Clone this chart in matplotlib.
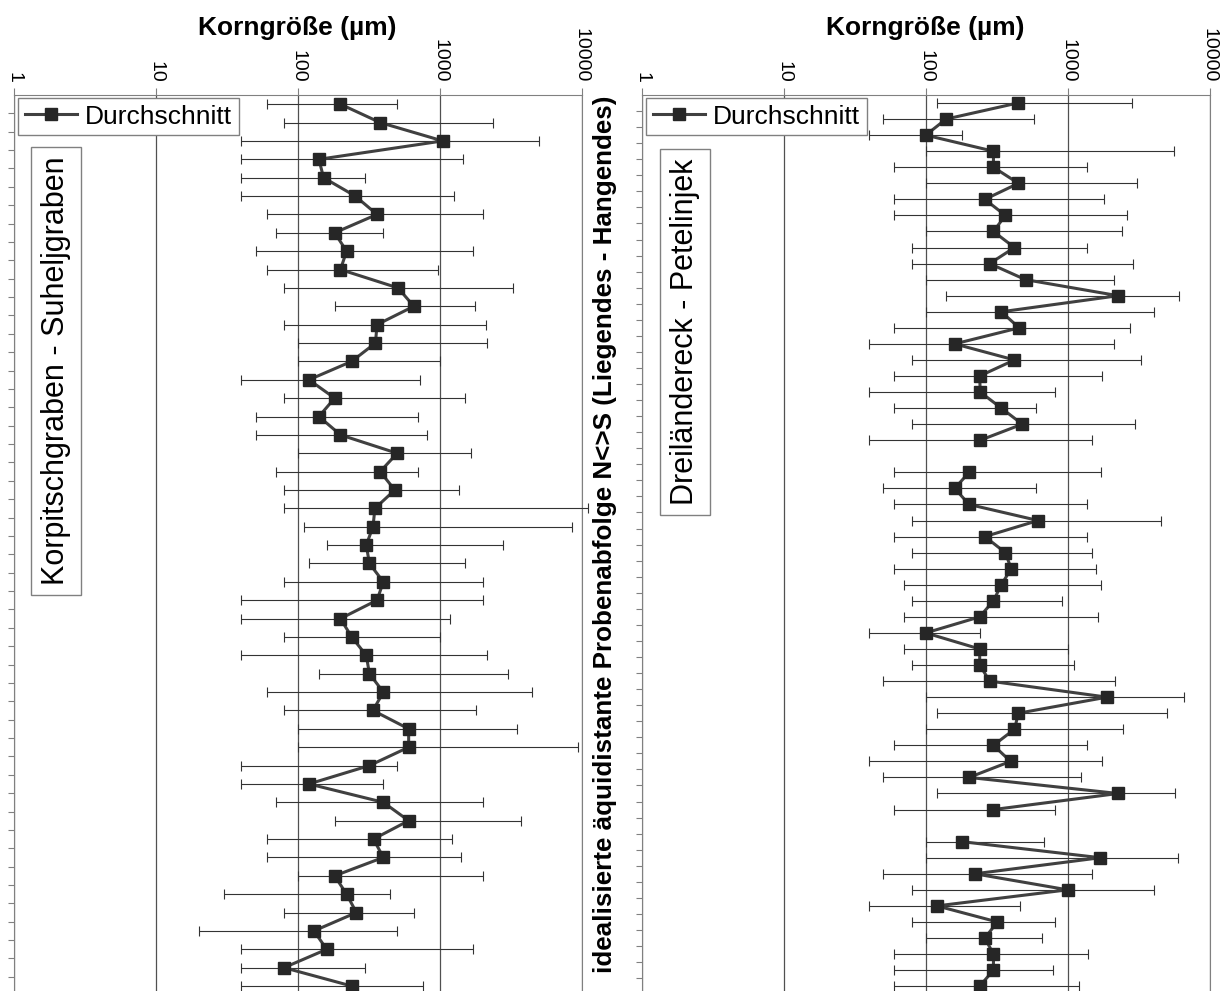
import numpy as np
import matplotlib.pyplot as plt
from matplotlib.ticker import NullLocator

plt.rcParams['font.family'] = ['Liberation Sans', 'DejaVu Sans']

# ---------------- Daten ----------------
# Korpitschgraben - Suheljgraben (Mittelwert, Minimum, Maximum in µm)
korp_mittel = [200, 381, 1052, 141, 152, 254, 362, 182, 221, 200, 509, 658, 362, 353, 240, 120,
               182, 141, 200, 502, 381, 483, 350, 339, 304, 320, 401, 362, 200, 240, 304, 320,
               401, 339, 605, 605, 320, 120, 401, 605, 342, 401, 182, 221, 259, 130, 160, 80, 240]
korp_min = [61, 80, 40, 40, 40, 40, 61, 70, 51, 61, 80, 182, 80, 100, 100, 40,
            80, 51, 51, 100, 70, 80, 80, 110, 160, 121, 80, 40, 40, 80, 40, 141,
            61, 80, 100, 100, 40, 40, 70, 182, 61, 61, 100, 30, 80, 20, 40, 40, 40]
korp_max = [502, 2384, 4990, 1471, 300, 1268, 2028, 401, 1706, 968, 3311, 1762, 2137, 2163, 1000, 725,
            1515, 702, 809, 1672, 702, 1361, 11150, 8630, 2798, 1515, 2028, 2028, 1175, 1000, 2163, 3042,
            4446, 1818, 3506, 9500, 502, 401, 2028, 3738, 1213, 1406, 2028, 448, 658, 502, 1706, 300, 759]

# Dreiländereck - Petelinjek (nan = keine Probe)
drei_mittel = [444, 139, 100, 300, 300, 450, 261, 364, 300, 422, 282, 505, 2268, 341, 455, 160,
               422, 240, 242, 341, 479, 242, np.nan, 202, 160, 202, 619, 261, 364, 400, 341, 300,
               240, 100, 240, 240, 282, 1896, 450, 422, 300, 396, 202, 2268, 300, np.nan, 180, 1700,
               222, 1000, 120, 320, 261, 300, 300, 240]
drei_min = [120, 50, 40, 100, 60, 100, 60, 60, 100, 80, 80, 100, 139, 100, 60, 40,
            80, 60, 40, 60, 80, 40, np.nan, 60, 50, 60, 80, 60, 80, 60, 70, 80,
            70, 40, 70, 80, 50, 100, 120, 100, 60, 40, 50, 120, 60, np.nan, 100, 100,
            50, 80, 40, 80, 100, 60, 60, 60]
drei_max = [2835, 581, 180, 5623, 1360, 3100, 1813, 2610, 2402, 1360, 2872, 2113, 6110, 4032, 2730, 2113,
            3264, 1745, 809, 600, 3004, 1496, np.nan, 1722, 600, 1360, 4551, 1360, 1496, 1575, 1722, 908,
            1646, 240, 1000, 1115, 2153, 6600, 5012, 2448, 1360, 1745, 1251, 5728, 809, np.nan, 681, 5995,
            1496, 4032, 464, 809, 660, 1403, 789, 1196]

xticks = [1, 10, 100, 1000, 10000]
xticklabels = ['1', '10', '100', '1000', '10000']

# ---------------- Grafik ----------------
W, H = 1226, 991
fig = plt.figure(figsize=(W / 100, H / 100), dpi=100)

# (links, rechts, oben, unteres y-Limit, Name, Textbox-Mitte, Mittel, Min, Max)
panels = [
    (14, 581.5, 95, 49.27, 'Korpitschgraben - Suheljgraben', (56, 371), korp_mittel, korp_min, korp_max),
    (642, 1209.5, 95, 56.3, 'Dreiländereck - Petelinjek', (685, 332), drei_mittel, drei_min, drei_max),
]

for x0, x1, top, ybot, name, (bx, by), mittel, mn, mx in panels:
    ax = fig.add_axes([x0 / W, 0, (x1 - x0) / W, 1 - top / H])
    mittel = np.array(mittel, dtype=float)
    mn = np.array(mn, dtype=float)
    mx = np.array(mx, dtype=float)
    y = np.arange(1, len(mittel) + 1)

    eb = ax.errorbar(mittel, y, xerr=[mittel - mn, mx - mittel], fmt='none',
                     ecolor='#333333', elinewidth=0.8, capsize=3.5, capthick=0.8, zorder=3)
    for art in eb.lines[1] + eb.lines[2]:
        art.set_clip_on(False)
    linie, = ax.plot(mittel, y, '-s', color='#404040', lw=2.2, ms=9,
                     mfc='#262626', mec='#262626', label='Durchschnitt', zorder=4, clip_on=False)

    ax.set_xscale('log')
    ax.set_xlim(1, 10000)
    ax.set_ylim(ybot, 0.5)
    ax.xaxis.tick_top()
    ax.xaxis.set_label_position('top')
    ax.set_xticks(xticks)
    ax.set_xticklabels(xticklabels, rotation=-90, fontsize=14)
    ax.xaxis.set_minor_locator(NullLocator())
    ax.set_yticks(np.arange(1.5, ybot, 1.0))
    ax.tick_params(axis='y', direction='out', length=4, color='#808080', labelleft=False)
    ax.tick_params(axis='x', direction='out', length=5, color='#808080', pad=4)
    ax.set_xlabel('Korngröße (µm)', fontsize=19, fontweight='bold', va='center')
    ax.xaxis.set_label_coords(0.5, 1 + 67 / (H - top))

    for s in ['top', 'left', 'right']:
        ax.spines[s].set_color('#808080')
    ax.spines['bottom'].set_visible(False)
    ax.grid(axis='x', which='major', color='#505050', lw=0.9)
    ax.set_axisbelow(True)

    ax.legend(handles=[linie], loc='upper left', bbox_to_anchor=((x0 + 4) / W, 1 - 98 / H),
              bbox_transform=fig.transFigure, fontsize=19, frameon=True, fancybox=False,
              edgecolor='#808080', framealpha=1, handlelength=2.0, handletextpad=0.3,
              borderpad=0.25, borderaxespad=0)

    fig.text(bx / W, 1 - by / H, name, rotation=90, ha='center', va='center', fontsize=22,
             bbox=dict(boxstyle='square,pad=0.33', fc='white', ec='#808080', lw=1))

fig.text(605 / W, 1 - 96 / H,
         'idealisierte äquidistante Probenabfolge N<>S (Liegendes - Hangendes)',
         rotation=90, ha='center', va='top', fontsize=18.7, fontweight='bold')

fig.savefig('out.png', dpi=100)
